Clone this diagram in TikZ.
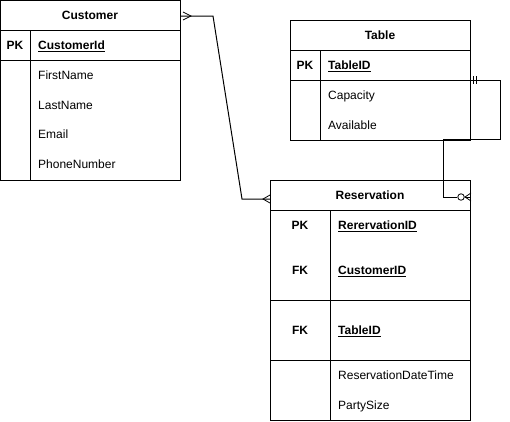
\documentclass[tikz,border=0pt]{standalone}
\usepackage{fontspec}
\setmainfont{Liberation Sans}
\begin{document}
\begin{tikzpicture}[x=1pt,y=-1pt,
  box/.style={draw, line width=1pt, inner sep=0pt, outer sep=0pt, anchor=north west},
  txt/.style={inner sep=0pt, font=\fontsize{12}{14}\selectfont, text height=8.6pt, text depth=0pt},
  hdr/.style={txt, font=\fontsize{12}{14}\selectfont\bfseries, anchor=center},
  keytxt/.style={txt, font=\fontsize{12}{14}\selectfont\bfseries, anchor=center},
  attr/.style={txt, anchor=west},
  pkattr/.style={txt, font=\fontsize{12}{14}\selectfont\bfseries, anchor=west},
  conn/.style={line width=1pt, line join=miter}
]
\useasboundingbox (0,0) rectangle (510,421);
% ---------- Customer ----------
\node[box, minimum width=180pt, minimum height=30pt] (custHead) at (0,0) {};
\node[box, minimum width=30pt, minimum height=30pt] (custPKk) at (0,30) {};
\node[box, minimum width=150pt, minimum height=30pt] (custPKa) at (30,30) {};
\node[box, minimum width=30pt, minimum height=120pt] (custAk) at (0,60) {};
\node[box, minimum width=150pt, minimum height=120pt] (custAa) at (30,60) {};
\node[hdr] (custT) at (90,15) {Customer};
\node[keytxt] (custPK) at (15,45) {PK};
\node[pkattr] (custId) at (38,45) {\underline{CustomerId}};
\node[attr] (custFN) at (38,75) {FirstName};
\node[attr] (custLN) at (38,105) {LastName};
\node[attr] (custEm) at (38,134) {Email};
\node[attr] (custPh) at (38,164) {PhoneNumber};
% ---------- Table ----------
\node[box, minimum width=180pt, minimum height=30pt] (tabHead) at (290,20) {};
\node[box, minimum width=30pt, minimum height=30pt] (tabPKk) at (290,50) {};
\node[box, minimum width=150pt, minimum height=30pt] (tabPKa) at (320,50) {};
\node[box, minimum width=30pt, minimum height=60pt] (tabAk) at (290,80) {};
\node[box, minimum width=150pt, minimum height=60pt] (tabAa) at (320,80) {};
\node[hdr] (tabT) at (380,35) {Table};
\node[keytxt] (tabPK) at (305,65) {PK};
\node[pkattr] (tabId) at (328,65) {\underline{TableID}};
\node[attr] (tabCap) at (328,95) {Capacity};
\node[attr] (tabAv) at (328,125) {Available};
% ---------- Reservation ----------
\node[box, minimum width=200pt, minimum height=30pt] (resHead) at (270,180) {};
\node[box, minimum width=60pt, minimum height=90pt] (resR1k) at (270,210) {};
\node[box, minimum width=140pt, minimum height=90pt] (resR1a) at (330,210) {};
\node[box, minimum width=60pt, minimum height=60pt] (resR2k) at (270,300) {};
\node[box, minimum width=140pt, minimum height=60pt] (resR2a) at (330,300) {};
\node[box, minimum width=60pt, minimum height=60pt] (resR3k) at (270,360) {};
\node[box, minimum width=140pt, minimum height=60pt] (resR3a) at (330,360) {};
\node[hdr] (resT) at (370,195) {Reservation};
\node[keytxt] (resPK) at (300,225) {PK};
\node[pkattr] (resId) at (338,225) {\underline{RerervationID}};
\node[keytxt] (resFK1) at (300,270) {FK};
\node[pkattr] (resCust) at (338,270) {\underline{CustomerID}};
\node[keytxt] (resFK2) at (300,330) {FK};
\node[pkattr] (resTab) at (338,330) {\underline{TableID}};
\node[attr] (resDT) at (338,375) {ReservationDateTime};
\node[attr] (resPS) at (338,405) {PartySize};
% ---------- Customer -- Reservation ----------
\coordinate (cA) at ([yshift=-1pt]custHead.east);
\coordinate (cB) at (213,16);
\coordinate (cC) at (242,199);
\coordinate (cD) at ([yshift=-4pt]resHead.west);
\draw[conn] (cA) -- (cB) -- (cC) -- (cD);
\draw[line width=0.8pt] (183,12) -- (191,16) -- (183,20);
\draw[line width=0.8pt] (270,195) -- (263,199) -- (270,203);
% ---------- Table -- Reservation ----------
\coordinate (tA) at (tabPKa.south east);
\coordinate (tB) at (500,80);
\coordinate (tC) at (500,139);
\coordinate (tD) at (443,139);
\coordinate (tE) at (443,197);
\coordinate (tF) at ([yshift=-2pt]resHead.east);
\node[draw, circle, line width=0.8pt, minimum size=6.5pt, inner sep=0pt, fill=white] (zeroMark) at (461,197) {};
\draw[conn] (tA) -- (tB) -- (tC) -- (tD) -- (tE) -- (zeroMark.west);
\draw[conn] (zeroMark.east) -- (tF);
\draw[line width=0.8pt] (473,76) -- (473,84) (476,76) -- (476,84);
\draw[line width=0.8pt] (471,193) -- (465,197) -- (471,201);
\end{tikzpicture}
\end{document}
